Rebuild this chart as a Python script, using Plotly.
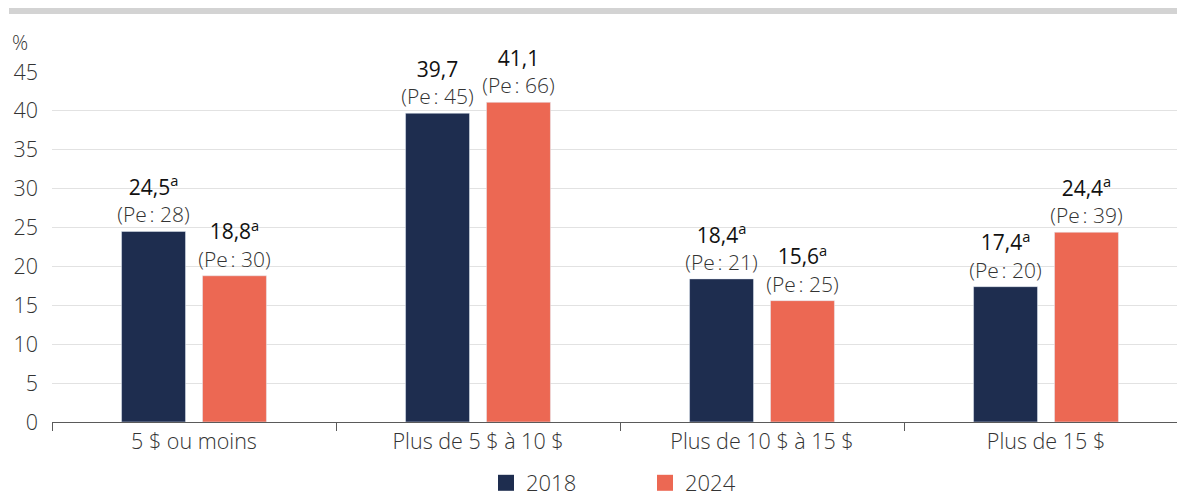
import plotly.graph_objects as go

categories = ["5 $ ou moins", "Plus de 5 $ à 10 $", "Plus de 10 $ à 15 $", "Plus de 15 $"]
values_2018 = [24.5, 39.7, 18.4, 17.4]
pe_2018 = [28, 45, 21, 20]
sup_2018 = ["a", "", "a", "a"]
values_2024 = [18.8, 41.1, 15.6, 24.4]
pe_2024 = [30, 66, 25, 39]
sup_2024 = ["a", "", "a", "a"]
y_ticks = [0, 5, 10, 15, 20, 25, 30, 35, 40, 45]

NAVY = "#1e2d4f"
CORAL = "#ec6853"
FONT = "Open Sans"
TXT = "#333333"


def labels(vals, pes, sups):
    out = []
    for v, p, s in zip(vals, pes, sups):
        num = f"{v:.1f}".replace(".", ",")
        sup = f"<sup>{s}</sup>" if s else ""
        out.append(f"<span style='color:#111111;font-weight:400'>{num}{sup}</span><br>"
                   f"<span style='color:#333333'>(Pe\u202f: {p})</span>")
    return out


fig = go.Figure()
for name, vals, pes, sups, col in [("2018", values_2018, pe_2018, sup_2018, NAVY),
                                    ("2024", values_2024, pe_2024, sup_2024, CORAL)]:
    fig.add_trace(go.Bar(x=categories, y=vals, name=name, marker_color=col, showlegend=False,
                         text=labels(vals, pes, sups), textposition="outside",
                         constraintext="none",
                         textfont=dict(family=FONT, size=21, weight=300), cliponaxis=False))
# legend entries with larger square swatches
for name, col in [("2018", NAVY), ("2024", CORAL)]:
    fig.add_trace(go.Scatter(x=[None], y=[None], mode="markers", name=name,
                             marker=dict(symbol="square", size=16, color=col), showlegend=True))

# page has an 8px body margin; figure coordinates = page - 8
W, H = 1177, 487
L, R, T, B = 44, 0, 64, 73
pw = W - L - R
ph = H - T - B

fig.update_layout(
    width=W, height=H,
    margin=dict(l=L, r=R, t=T, b=B, pad=0, autoexpand=False),
    paper_bgcolor="white", plot_bgcolor="white",
    font=dict(family=FONT, size=22, color=TXT, weight=300),
    barmode="group", bargap=0.43, bargroupgap=0.21,
    showlegend=True,
    legend=dict(orientation="h", x=(478 - L) / pw, xanchor="left", y=(414 - 475) / ph,
                yanchor="middle", font=dict(size=22, color=TXT, weight=300), traceorder="normal",
                itemwidth=30, entrywidth=114, bgcolor="rgba(0,0,0,0)"),
    xaxis=dict(range=[-0.5, 3.5 - 3 / 284], showgrid=False, showline=True, linecolor="#5a5a5a",
               linewidth=1, ticks="outside", tickson="boundaries", ticklen=8,
               tickcolor="#5a5a5a", tickfont=dict(size=21.5, color=TXT, weight=300),
               fixedrange=True, automargin=False),
    yaxis=dict(range=[0, 45], tickvals=y_ticks, showgrid=True, gridcolor="#e2e2e2",
               gridwidth=1, zeroline=False, showline=False, ticks="",
               ticklabelstandoff=13, tickfont=dict(size=21.5, color=TXT, weight=300),
               fixedrange=True, automargin=False),
)

fig.add_annotation(text="%", xref="paper", yref="paper", x=(2 - L) / pw, y=(414 - 34) / ph,
                   xanchor="left", yanchor="middle", showarrow=False,
                   font=dict(size=20, color=TXT, weight=300))

fig.add_shape(type="rect", xref="paper", yref="paper",
              x0=(1 - L) / pw, x1=1.0, y0=(414 - 6) / ph, y1=414 / ph,
              fillcolor="#d3d3d3", line_width=0, layer="above")

fig.write_html("out.html")
